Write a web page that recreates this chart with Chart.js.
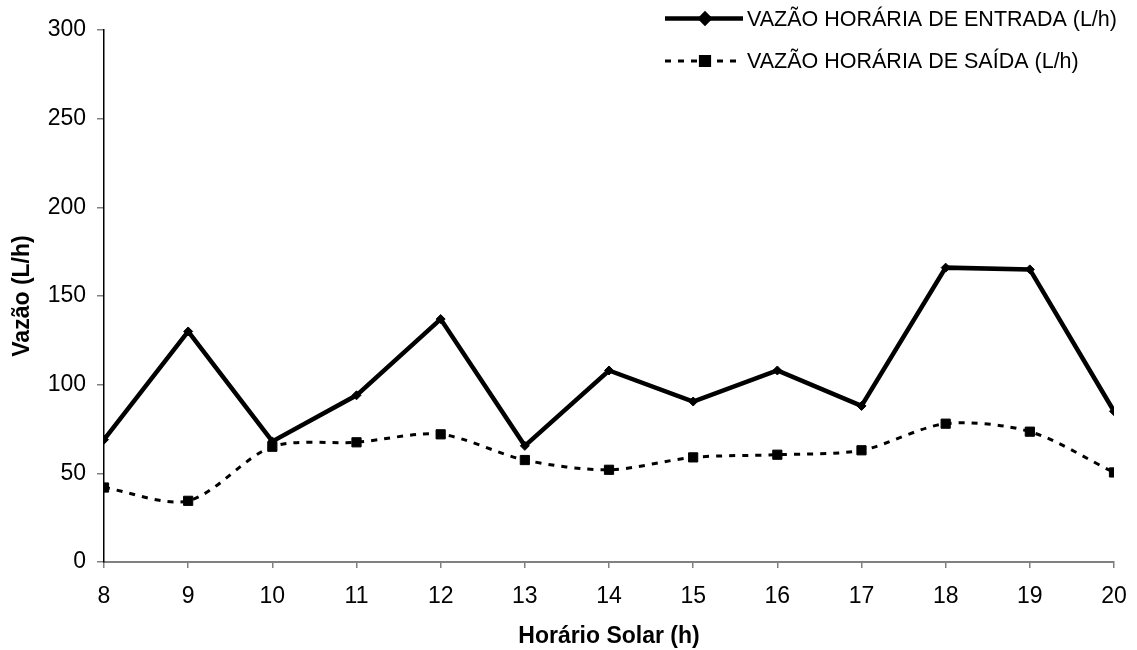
<!DOCTYPE html>
<html>
<head>
<meta charset="utf-8">
<script src="https://cdn.jsdelivr.net/npm/chart.js@4"></script>
<style>
  html, body { margin: 0; padding: 0; background: #fff; }
  #wrap { width: 1137px; height: 650px; position: relative; }
</style>
</head>
<body>
<div id="wrap"><canvas id="c" width="1137" height="650"></canvas></div>
<script>
// Hourly flow (L/h) by solar hour
const hours = [8, 9, 10, 11, 12, 13, 14, 15, 16, 17, 18, 19, 20];
const entrada = [69, 130, 68, 94, 137, 65.5, 108, 90.5, 108, 88, 166, 165, 85];
const saida = [42, 34.5, 65, 67.5, 72, 57.5, 52, 59, 60.5, 63, 78, 73.5, 50.5];
const yTicks = [0, 50, 100, 150, 200, 250, 300];
const seriesNames = ['VAZÃO HORÁRIA DE ENTRADA (L/h)', 'VAZÃO HORÁRIA DE SAÍDA (L/h)'];

const FONT = '"Liberation Sans", Arial, sans-serif';

// Legend drawn in the top-right corner: line sample with marker, then label
const legendPlugin = {
  id: 'cornerLegend',
  afterDraw(chart) {
    const ctx = chart.ctx;
    const rows = [
      { y: 18.5, ds: chart.data.datasets[0] },
      { y: 61, ds: chart.data.datasets[1] }
    ];
    const x0 = 665, x1 = 743;
    ctx.save();
    rows.forEach(r => {
      const ds = r.ds;
      ctx.strokeStyle = ds.borderColor;
      ctx.lineWidth = ds.borderWidth;
      ctx.setLineDash(ds.borderDash || []);
      ctx.beginPath();
      ctx.moveTo(x0, r.y);
      ctx.lineTo(x1, r.y);
      ctx.stroke();
      ctx.setLineDash([]);
      ctx.fillStyle = '#000';
      ctx.strokeStyle = '#000';
      Chart.helpers.drawPoint(ctx, {
        pointStyle: ds.pointStyle,
        radius: ds.pointRadius,
        rotation: ds.pointRotation || 0,
        borderWidth: 1
      }, 705, r.y);
      ctx.font = '21.5px ' + FONT;
      ctx.textBaseline = 'middle';
      ctx.textAlign = 'left';
      ctx.fillText(ds.label, 747, r.y + 1.5);
    });
    ctx.restore();
  }
};

new Chart(document.getElementById('c'), {
  type: 'line',
  data: {
    datasets: [
      {
        label: seriesNames[0],
        data: hours.map((h, i) => ({ x: h, y: entrada[i] })),
        borderColor: '#000',
        backgroundColor: '#000',
        borderWidth: 4.5,
        pointStyle: 'rectRot',
        pointRadius: 4.5,
        pointBorderWidth: 1,
        tension: 0
      },
      {
        label: seriesNames[1],
        data: hours.map((h, i) => ({ x: h, y: saida[i] })),
        borderColor: '#000',
        backgroundColor: '#000',
        borderWidth: 3,
        borderDash: [6, 7],
        pointStyle: 'rect',
        pointRadius: 6.5,
        pointBorderWidth: 1,
        tension: 0.3
      }
    ]
  },
  options: {
    responsive: false,
    animation: false,
    devicePixelRatio: 1,
    layout: { padding: { top: 30, right: 23, left: 0, bottom: 0 } },
    plugins: { legend: { display: false }, tooltip: { enabled: false } },
    scales: {
      x: {
        type: 'linear',
        min: 8,
        max: 20,
        afterFit(scale) {
          scale.height = 88;
          scale.paddingLeft = 0;
          scale.paddingRight = 0;
        },
        afterBuildTicks(scale) { scale.ticks = hours.map(v => ({ value: v })); },
        grid: { drawOnChartArea: false, drawTicks: true, tickLength: 6, color: '#808080', lineWidth: 1.5 },
        border: { display: true, color: '#808080', width: 2 },
        ticks: { color: '#000', font: { family: FONT, size: 23 }, padding: 15, maxRotation: 0, autoSkip: false },
        title: {
          display: true,
          text: 'Horário Solar (h)',
          color: '#000',
          font: { family: FONT, size: 23, weight: 'bold' },
          padding: { top: 3, bottom: 0 }
        }
      },
      y: {
        min: 0,
        max: 300,
        afterFit(scale) { scale.width = 104; },
        afterBuildTicks(scale) { scale.ticks = yTicks.map(v => ({ value: v })); },
        grid: { drawOnChartArea: false, drawTicks: true, tickLength: 7, color: '#808080', lineWidth: 1.5 },
        border: { display: true, color: '#000', width: 1.5 },
        ticks: { color: '#000', font: { family: FONT, size: 23 }, padding: 11, autoSkip: false },
        title: {
          display: true,
          text: 'Vazão (L/h)',
          color: '#000',
          font: { family: FONT, size: 23, weight: 'bold' },
          padding: { top: 9, bottom: 0 }
        }
      }
    }
  },
  plugins: [legendPlugin]
});
</script>
</body>
</html>
